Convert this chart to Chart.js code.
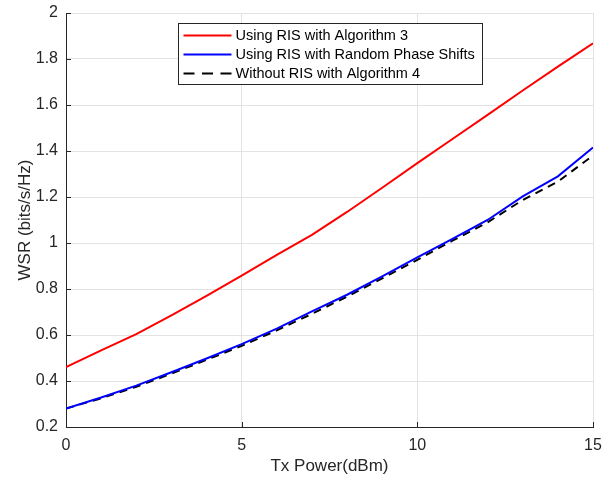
<!DOCTYPE html>
<html>
<head>
<meta charset="utf-8">
<script src="https://cdn.jsdelivr.net/npm/chart.js@4"></script>
<style>
  html, body { margin: 0; padding: 0; background: #fff; }
  #wrap { width: 615px; height: 480px; }
</style>
</head>
<body>
<div id="wrap"><canvas id="wsr" width="615" height="480"></canvas></div>
<script>
const txPower = [0, 1, 2, 3, 4, 5, 6, 7, 8, 9, 10, 11, 12, 13, 14, 15];
const risAlg3 = [0.46, 0.533, 0.604, 0.685, 0.77, 0.858, 0.948, 1.035, 1.135, 1.24, 1.347, 1.452, 1.557, 1.663, 1.767, 1.868];
const risRandom = [0.28, 0.328, 0.38, 0.438, 0.498, 0.56, 0.628, 0.703, 0.775, 0.855, 0.937, 1.018, 1.1, 1.203, 1.29, 1.415];
const noRisAlg4 = [0.28, 0.325, 0.375, 0.432, 0.492, 0.553, 0.62, 0.692, 0.767, 0.846, 0.927, 1.01, 1.09, 1.187, 1.267, 1.38];
const xTicks = [0, 5, 10, 15];
const yTicks = [0.2, 0.4, 0.6, 0.8, 1, 1.2, 1.4, 1.6, 1.8, 2];

const FONT = "'Liberation Sans', Arial, sans-serif";
const TXT = '#262626';

const pts = ys => ys.map((y, i) => ({ x: txPower[i], y: y }));

// MATLAB style: ticks pointing inward + legend box inside the axes
const matlabLook = {
  id: 'matlabLook',
  afterDraw(chart) {
    const c = chart.ctx, a = chart.chartArea;
    const xs = chart.scales.x, ys = chart.scales.y;
    c.save();
    c.strokeStyle = '#262626';
    c.lineWidth = 1;
    c.beginPath();
    xTicks.forEach(v => {
      const px = Math.round(xs.getPixelForValue(v)) + 0.5;
      c.moveTo(px, a.bottom); c.lineTo(px, a.bottom - 5);
    });
    yTicks.forEach(v => {
      const py = Math.round(ys.getPixelForValue(v)) + 0.5;
      c.moveTo(a.left, py); c.lineTo(a.left + 5, py);
    });
    c.stroke();

    // legend
    const bx = 178.5, by = 23.5, bw = 304, bh = 61;
    c.fillStyle = '#fff';
    c.fillRect(bx, by, bw, bh);
    c.strokeStyle = '#262626';
    c.strokeRect(bx, by, bw, bh);
    c.font = '14.5px ' + FONT;
    c.textBaseline = 'middle';
    chart.data.datasets.forEach((ds, i) => {
      const y = by + 12 + i * 19;
      c.strokeStyle = ds.borderColor;
      c.lineWidth = 2;
      c.setLineDash(ds.borderDash ? [11, 7.5] : []);
      c.beginPath();
      c.moveTo(bx + 5, y); c.lineTo(bx + 53, y);
      c.stroke();
      c.setLineDash([]);
      c.fillStyle = '#000';
      c.fillText(ds.label, bx + 57, y);
    });
    c.restore();
  }
};

new Chart(document.getElementById('wsr'), {
  type: 'line',
  data: {
    datasets: [
      { label: 'Using RIS with Algorithm 3', data: pts(risAlg3), borderColor: '#ff0000', borderWidth: 2, pointRadius: 0, tension: 0 },
      { label: 'Using RIS with Random Phase Shifts', data: pts(risRandom), borderColor: '#0000ff', borderWidth: 2, pointRadius: 0, tension: 0 },
      { label: 'Without RIS with Algorithm 4', data: pts(noRisAlg4), borderColor: '#000000', borderWidth: 2, borderDash: [8, 6], pointRadius: 0, tension: 0 }
    ]
  },
  options: {
    responsive: false,
    animation: false,
    layout: { padding: { left: 0, right: 22, top: 13, bottom: 0 } },
    plugins: { legend: { display: false }, tooltip: { enabled: false } },
    scales: {
      x: {
        type: 'linear',
        min: 0, max: 15,
        afterBuildTicks: s => { s.ticks = xTicks.map(v => ({ value: v })); },
        afterFit: s => { s.height = 53; s.paddingLeft = 0; s.paddingRight = 0; },
        grid: { color: '#e3e3e3', drawTicks: false },
        border: { color: '#262626', width: 1 },
        ticks: { font: { family: FONT, size: 16 }, color: TXT, padding: 9, maxRotation: 0 },
        title: { display: true, text: 'Tx Power(dBm)', font: { family: FONT, size: 17 }, color: TXT, padding: { top: 0, bottom: 3 } }
      },
      y: {
        type: 'linear',
        min: 0.2, max: 2,
        afterBuildTicks: s => { s.ticks = yTicks.map(v => ({ value: v })); },
        afterFit: s => { s.width = 66; s.paddingTop = 0; s.paddingBottom = 0; },
        grid: { color: '#e3e3e3', drawTicks: false },
        border: { color: '#262626', width: 1 },
        ticks: { font: { family: FONT, size: 16 }, color: TXT, padding: 8, callback: v => String(Math.round(v * 10) / 10) },
        title: { display: true, text: 'WSR (bits/s/Hz)', font: { family: FONT, size: 17 }, color: TXT, padding: { top: 15, bottom: 0 } }
      }
    }
  },
  plugins: [matlabLook]
});
</script>
</body>
</html>
